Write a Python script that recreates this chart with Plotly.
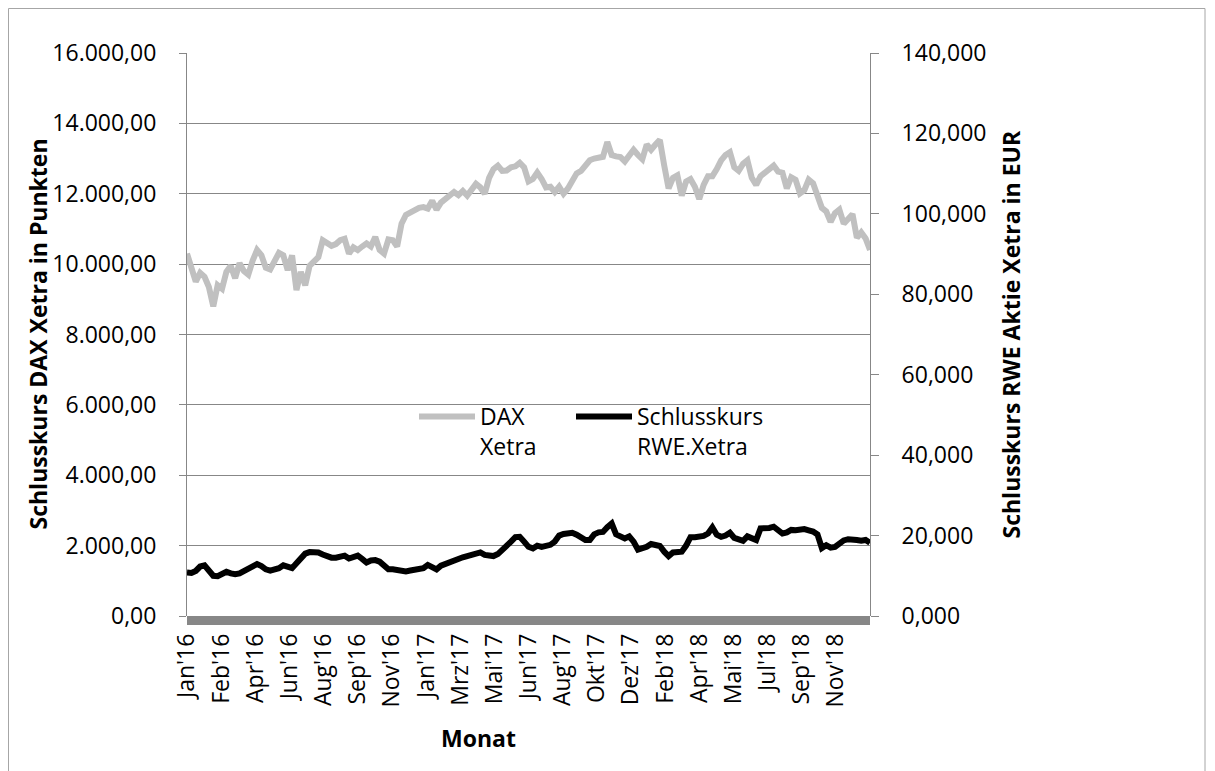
import numpy as np
import pandas as pd
import plotly.graph_objects as go

# Weekly closing values
dax = [10300, 9920, 9500, 9750, 9640, 9350, 8800, 9400, 9300, 9780,
       9950, 9600, 10030, 9800, 9700, 10100, 10400, 10250, 9900, 9850,
       10100, 10320, 10250, 9830, 10250, 9260, 9780, 9400, 9950, 10060,
       10200, 10680, 10600, 10520, 10570, 10680, 10720, 10300, 10480, 10400,
       10500, 10590, 10500, 10770, 10400, 10300, 10700, 10680, 10500, 11150,
       11400, 11470, 11560, 11600, 11620, 11580, 11800, 11550, 11750, 11850,
       11950, 12050, 11960, 12080, 11950, 12150, 12280, 12180, 12000, 12450,
       12700, 12800, 12650, 12660, 12750, 12780, 12880, 12750, 12350, 12420,
       12600, 12420, 12180, 12200, 12050, 12200, 12000, 12150, 12400, 12580,
       12650, 12800, 12950, 13000, 13020, 13050, 13470, 13100, 13060, 13040,
       12920, 13100, 13250, 13100, 12980, 13400, 13250, 13400, 13530, 12800,
       12150, 12450, 12520, 11950, 12350, 12420, 12200, 11850, 12250, 12500,
       12500, 12700, 12950, 13100, 13180, 12750, 12650, 12850, 12950, 12450,
       12250, 12500, 12600, 12680, 12800, 12630, 12600, 12150, 12470, 12400,
       12010, 12100, 12400, 12300, 11900, 11600, 11500, 11200, 11450, 11550,
       11150, 11300, 11420, 10750, 10900, 10730, 10400]

rwe = [10.8, 10.7, 11.2, 12.3, 12.6, 11.5, 10.0, 9.9, 10.4, 11.0,
       10.6, 10.4, 10.6, 11.1, 11.5, 12.1, 12.9, 12.4, 11.6, 11.3,
       11.5, 11.9, 12.6, 12.2, 11.9, 13.1, 14.3, 15.5, 15.9, 16.0,
       15.8, 15.3, 14.8, 14.5, 14.5, 14.6, 15.0, 14.3, 14.7, 15.0,
       14.2, 13.3, 13.8, 13.9, 13.5, 12.3, 11.6, 11.6, 11.4, 11.3,
       11.1, 11.3, 11.6, 11.9, 11.9, 12.7, 12.2, 11.6, 12.5, 13.0,
       13.5, 13.8, 14.2, 14.6, 14.9, 15.2, 15.6, 15.8, 15.2, 15.0,
       14.9, 15.4, 16.6, 17.4, 18.5, 19.6, 19.7, 18.5, 17.2, 16.8,
       17.5, 17.2, 17.4, 17.7, 18.5, 20.0, 20.4, 20.6, 20.7, 20.2,
       19.6, 18.9, 18.9, 20.3, 20.8, 20.9, 22.1, 23.0, 20.3, 19.6,
       19.3, 19.8, 18.5, 16.5, 16.8, 17.2, 17.9, 17.6, 17.4, 16.0,
       14.9, 15.8, 16.0, 16.0, 17.5, 19.6, 19.6, 19.7, 19.9, 20.5,
       22.0, 20.2, 19.7, 20.0, 20.7, 19.4, 19.0, 18.7, 19.8, 19.2,
       18.9, 21.8, 21.7, 21.9, 22.2, 21.1, 20.5, 20.8, 21.4, 21.3,
       21.4, 21.6, 21.3, 21.0, 20.3, 16.9, 17.6, 17.0, 17.2, 18.2,
       18.8, 19.1, 19.1, 18.9, 18.7, 18.9, 18.2]

tick_labels = ["Jan'16", "Feb'16", "Apr'16", "Jun'16", "Aug'16", "Sep'16", "Nov'16",
               "Jan'17", "Mrz'17", "Mai'17", "Jun'17", "Aug'17", "Okt'17", "Dez'17",
               "Feb'18", "Apr'18", "Mai'18", "Jul'18", "Sep'18", "Nov'18"]

dates = pd.date_range("2016-01-04", periods=len(dax), freq="7D")
span_days = (dates[-1] - dates[0]).days
tickvals = dates[0] + pd.to_timedelta(np.arange(len(tick_labels)) * span_days / len(tick_labels), unit="D")

FONT = "Open Sans"
FS = 23
GRID = "#878787"

# page body adds an 8px offset; layout measured in figure pixels
W, H = 1215, 771
L, T = 179, 45
PLOT_R, PLOT_B = 862, 608
R, B = W - PLOT_R, H - PLOT_B
pw, ph = PLOT_R - L, PLOT_B - T

def px_x(p):
    return (p - L) / pw

def px_y(p):
    return (PLOT_B - p) / ph

fig = go.Figure()
fig.add_trace(go.Scatter(x=dates, y=dax, mode="lines", name="DAX<br>Xetra",
                         line=dict(color="#c0c0c0", width=6), yaxis="y", legend="legend"))
fig.add_trace(go.Scatter(x=dates, y=rwe, mode="lines", name="Schlusskurs<br>RWE.Xetra",
                         line=dict(color="#000000", width=6), yaxis="y2", legend="legend2"))

leg_common = dict(xanchor="left", yanchor="top", bgcolor="rgba(0,0,0,0)",
                  font=dict(family=FONT, size=FS), itemwidth=56, valign="top")

fig.update_layout(
    width=W, height=H, autosize=False,
    margin=dict(l=L, r=R, t=T, b=B, pad=0),
    paper_bgcolor="white", plot_bgcolor="white",
    separators=",.",
    font=dict(family=FONT, size=FS, color="black"),
    showlegend=True,
    legend=dict(x=px_x(406), y=px_y(387), **leg_common),
    legend2=dict(x=px_x(563), y=px_y(387), **leg_common),
    xaxis=dict(type="date", range=[dates[0], dates[-1]], tickmode="array",
               tickvals=tickvals, ticktext=tick_labels, tickangle=-90,
               showgrid=False, zeroline=False, ticks="", showline=False,
               ticklabelstandoff=12,
               tickfont=dict(family=FONT, size=FS)),
    yaxis=dict(range=[0, 16000], dtick=2000, tickformat=",.2f",
               showgrid=True, gridcolor=GRID, gridwidth=1, zeroline=False,
               showline=True, linecolor=GRID, linewidth=1,
               ticks="outside", ticklen=7, tickcolor=GRID,
               ticklabelstandoff=18, tickfont=dict(family=FONT, size=FS)),
    yaxis2=dict(range=[0, 140], dtick=20, tickformat=",.3f", overlaying="y", side="right",
                showgrid=False, zeroline=False,
                showline=True, linecolor=GRID, linewidth=1,
                ticks="outside", ticklen=8, tickcolor=GRID,
                ticklabelstandoff=18, tickfont=dict(family=FONT, size=FS)),
    shapes=[
        dict(type="rect", xref="paper", yref="paper",
             x0=px_x(0.5), x1=px_x(1197), y0=px_y(800), y1=px_y(0.5),
             line=dict(color="#a6a6a6", width=1), fillcolor="rgba(0,0,0,0)", layer="below"),
        dict(type="rect", xref="paper", yref="paper",
             x0=0, x1=1, y0=px_y(PLOT_B + 9), y1=0,
             line=dict(width=0), fillcolor="#878787", layer="above"),
    ],
    annotations=[
        dict(text="<b>Schlusskurs DAX Xetra in Punkten</b>", xref="paper", yref="paper",
             x=px_x(29), y=0.5, textangle=-90, showarrow=False,
             xanchor="center", yanchor="middle", font=dict(family=FONT, size=FS)),
        dict(text="<b>Schlusskurs RWE Aktie Xetra in EUR</b>", xref="paper", yref="paper",
             x=px_x(1002), y=0.5, textangle=-90, showarrow=False,
             xanchor="center", yanchor="middle", font=dict(family=FONT, size=FS)),
        dict(text="<b>Monat</b>", xref="paper", yref="paper",
             x=px_x(470), y=px_y(730), showarrow=False,
             xanchor="center", yanchor="middle", font=dict(family=FONT, size=FS)),
    ],
)

fig.write_html("out.html")
